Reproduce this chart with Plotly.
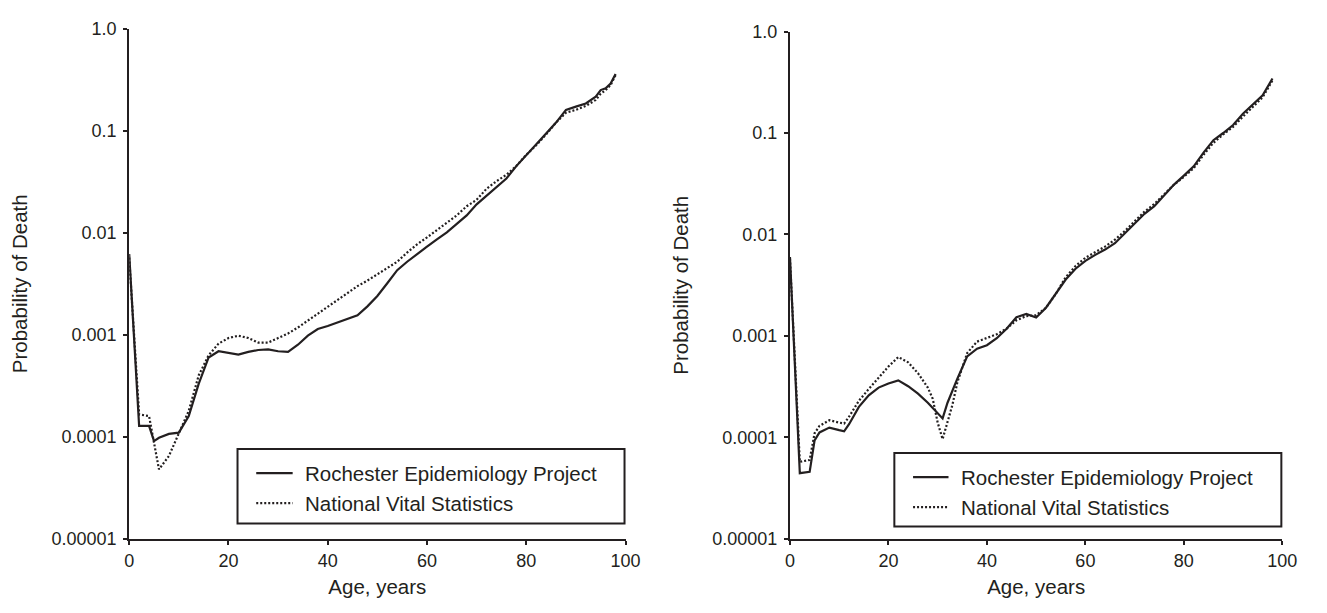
import plotly.graph_objects as go

# ---------------- data ----------------
ages_left = [0, 2, 4, 5, 6, 8, 10, 12, 14, 16, 18, 20, 22, 24, 26, 28, 30, 32, 34, 36, 38, 40,
             42, 44, 46, 48, 50, 52, 54, 56, 58, 60, 62, 64, 66, 68, 70, 72, 74, 76, 78, 80,
             82, 84, 86, 88, 90, 92, 94, 95, 96, 97, 98]
rep_left = [0.0062, 0.000128, 0.000128, 0.000091, 0.000098, 0.000107, 0.00011, 0.00016, 0.00033,
            0.0006, 0.00069, 0.00067, 0.00064, 0.00068, 0.00071, 0.00072, 0.00069, 0.00068,
            0.0008, 0.00098, 0.00114, 0.00122, 0.00132, 0.00143, 0.00155, 0.0019, 0.0024,
            0.0032, 0.0043, 0.0052, 0.0062, 0.0073, 0.0086, 0.0101, 0.0122, 0.0148, 0.019,
            0.023, 0.028, 0.034, 0.045, 0.058, 0.073, 0.094, 0.12, 0.16, 0.172, 0.185, 0.215,
            0.25, 0.26, 0.29, 0.36]
nvs_left = [0.0057, 0.000166, 0.00016, 0.000085, 0.000048, 0.000065, 0.000107, 0.00018, 0.0004,
            0.00063, 0.00082, 0.00093, 0.00098, 0.00093, 0.00084, 0.00084, 0.00093, 0.00103,
            0.00118, 0.00138, 0.0016, 0.0019, 0.0022, 0.0026, 0.003, 0.0034, 0.0039, 0.0045,
            0.0052, 0.0064, 0.0077, 0.009, 0.0106, 0.0125, 0.0148, 0.0182, 0.021, 0.027, 0.032,
            0.037, 0.045, 0.058, 0.072, 0.092, 0.12, 0.15, 0.16, 0.175, 0.2, 0.23, 0.25, 0.28,
            0.35]

ages_right = [0, 2, 4, 5, 6, 8, 10, 11, 12, 14, 16, 18, 20, 22, 24, 26, 28, 29, 30, 31, 32, 33,
              34, 36, 38, 40, 42, 44, 46, 48, 50, 52, 54, 56, 58, 60, 62, 64, 66, 68, 70, 72,
              74, 76, 78, 80, 82, 84, 86, 88, 90, 92, 94, 96, 98]
rep_right = [0.006, 0.0000445, 0.0000458, 0.0000935, 0.000112, 0.000125, 0.000118, 0.000115,
             0.000135, 0.0002, 0.00026, 0.00031, 0.00034, 0.000365, 0.00032, 0.00027, 0.00022,
             0.000195, 0.00017, 0.000154, 0.00022, 0.00029, 0.00038, 0.00063, 0.00075, 0.00081,
             0.00095, 0.00118, 0.00153, 0.00165, 0.00152, 0.0019, 0.0026, 0.0036, 0.0046,
             0.0055, 0.0063, 0.0071, 0.0082, 0.0102, 0.0128, 0.016, 0.019, 0.024, 0.031, 0.038,
             0.047, 0.064, 0.085, 0.1, 0.12, 0.155, 0.19, 0.235, 0.345]
nvs_right = [0.0058, 0.0000575, 0.00006, 0.00011, 0.00013, 0.000148, 0.00014, 0.000137, 0.00016,
             0.00023, 0.0003, 0.00039, 0.0005, 0.00062, 0.00055, 0.00043, 0.00031, 0.00024,
             0.00014, 0.0000964, 0.00014, 0.00021, 0.00035, 0.00068, 0.00088, 0.00096, 0.00104,
             0.00118, 0.00143, 0.00157, 0.0016, 0.0019, 0.0026, 0.0038, 0.0049, 0.0059, 0.0067,
             0.0076, 0.0089, 0.0108, 0.0135, 0.0168, 0.02, 0.025, 0.031, 0.037, 0.045, 0.061,
             0.08, 0.097, 0.115, 0.145, 0.18, 0.225, 0.33]

series_names = ["Rochester Epidemiology Project", "National Vital Statistics"]
y_tickvals = [0.00001, 0.0001, 0.001, 0.01, 0.1, 1.0]
y_ticktext = ["0.00001", "0.0001", "0.001", "0.01", "0.1", "1.0"]
x_tickvals = [0, 20, 40, 60, 80, 100]
x_title = "Age, years"
y_title = "Probability of Death"

# ---------------- layout helpers ----------------
# the page body has an 8px margin, so the figure is 16px smaller than the window
W, H = 1311, 597
OFF = 8
INK = "#231f20"
FONT = "Liberation Sans, Arial, sans-serif"
DOT = "2px,2px"


def fx(px):
    return (px - OFF) / W


def fy(py):
    return 1 - (py - OFF) / H


fig = go.Figure()


def add_pair(ages, rep, nvs, xa, ya):
    fig.add_trace(go.Scatter(x=ages, y=rep, mode="lines", name=series_names[0],
                             line=dict(color=INK, width=2.2), xaxis=xa, yaxis=ya,
                             showlegend=False))
    fig.add_trace(go.Scatter(x=ages, y=nvs, mode="lines", name=series_names[1],
                             line=dict(color=INK, width=2.2, dash=DOT), xaxis=xa, yaxis=ya,
                             showlegend=False))


add_pair(ages_left, rep_left, nvs_left, "x", "y")
add_pair(ages_right, rep_right, nvs_right, "x2", "y2")


def xaxis_style(domain, anchor):
    return dict(domain=domain, anchor=anchor, range=[0, 100], tickvals=x_tickvals,
                showline=True, linecolor=INK, linewidth=2, ticks="outside", ticklen=4,
                tickwidth=2, tickcolor=INK, showgrid=False, zeroline=False,
                tickfont=dict(size=18, color=INK, family=FONT),
                title=dict(text=x_title, font=dict(size=20.5, color=INK, family=FONT),
                           standoff=10))


def yaxis_style(domain, anchor):
    return dict(domain=domain, anchor=anchor, type="log", range=[-5, 0], tickvals=y_tickvals,
                ticktext=y_ticktext, showline=True, linecolor=INK, linewidth=2,
                ticks="outside", ticklen=4, tickwidth=2, tickcolor=INK, showgrid=False,
                zeroline=False, tickfont=dict(size=18, color=INK, family=FONT),
                ticklabelstandoff=3,
                title=dict(text=y_title, font=dict(size=20.5, color=INK, family=FONT),
                           standoff=18))


shapes = []
annotations = []


def legend_box(left, right, top, bottom, s0, s1, tx, y1, y2):
    shapes.append(dict(type="rect", xref="paper", yref="paper", x0=fx(left), x1=fx(right),
                       y0=fy(bottom), y1=fy(top), line=dict(color=INK, width=2),
                       fillcolor="white", layer="above"))
    for yy, dash, name in [(y1, "solid", series_names[0]), (y2, DOT, series_names[1])]:
        shapes.append(dict(type="line", xref="paper", yref="paper", x0=fx(s0), x1=fx(s1),
                           y0=fy(yy), y1=fy(yy), line=dict(color=INK, width=2.2, dash=dash),
                           layer="above"))
        annotations.append(dict(text=name, xref="paper", yref="paper", x=fx(tx), y=fy(yy),
                                xanchor="left", yanchor="middle", showarrow=False,
                                font=dict(size=20.5, color=INK, family=FONT)))


legend_box(236, 629, 454, 531, 255, 292, 302, 479, 510)
legend_box(903, 1296, 458, 534, 922, 958, 969, 483, 514)

fig.update_layout(
    width=W, height=H, margin=dict(l=0, r=0, t=0, b=0),
    paper_bgcolor="white", plot_bgcolor="white",
    xaxis=xaxis_style([fx(126), fx(630)], "y"),
    yaxis=yaxis_style([fy(547), fy(19)], "x"),
    xaxis2=xaxis_style([fx(797), fx(1297)], "y2"),
    yaxis2=yaxis_style([fy(547), fy(22)], "x2"),
    shapes=shapes, annotations=annotations,
    font=dict(family=FONT, color=INK),
)

fig.write_html("out.html")
